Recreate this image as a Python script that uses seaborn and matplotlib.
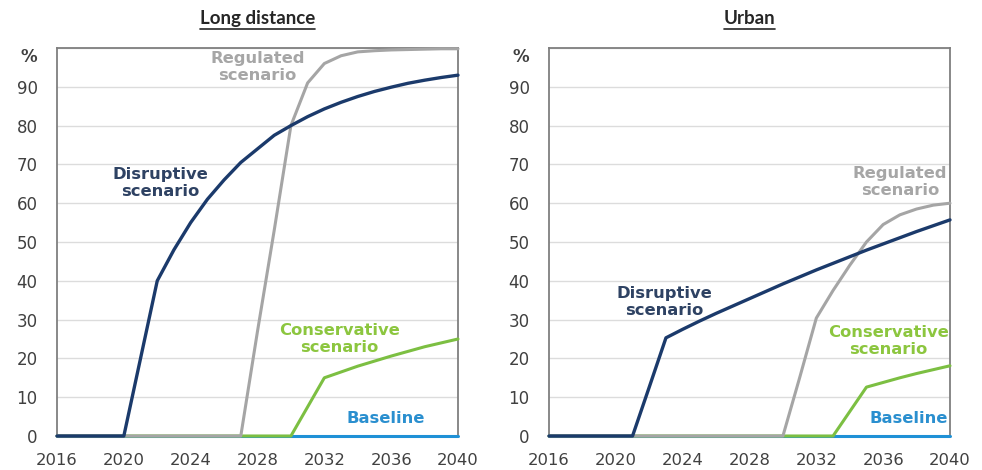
import pandas as pd
import matplotlib
matplotlib.use("Agg")
import matplotlib.pyplot as plt
from matplotlib.lines import Line2D
import seaborn as sns

# data (% share, 2016-2040)
years = list(range(2016, 2041))

long_baseline = [0] * 25
long_conservative = [0, 0, 0, 0, 0, 0, 0, 0, 0, 0, 0, 0, 0, 0, 0,
                     7.5, 15, 16.5, 18, 19.3, 20.6, 21.8, 23, 24, 25]
long_regulated = [0, 0, 0, 0, 0, 0, 0, 0, 0, 0, 0, 0,
                  27, 53, 80, 91, 96, 98, 99, 99.3, 99.5, 99.6, 99.7, 99.8, 99.8]
long_disruptive = [0, 0, 0, 0, 0, 20, 40, 48, 55, 61, 66, 70.5, 74, 77.5, 80,
                   82.3, 84.3, 86, 87.5, 88.8, 89.9, 90.9, 91.7, 92.4, 93]

urban_baseline = [0] * 25
urban_conservative = [0, 0, 0, 0, 0, 0, 0, 0, 0, 0, 0, 0, 0, 0, 0, 0, 0, 0,
                      6.3, 12.6, 13.8, 15, 16.1, 17.1, 18.1]
urban_regulated = [0, 0, 0, 0, 0, 0, 0, 0, 0, 0, 0, 0, 0, 0, 0,
                   15, 30.4, 37.5, 44, 50, 54.5, 57, 58.5, 59.5, 60]
urban_disruptive = [0, 0, 0, 0, 0, 0, 12.6, 25.3, 27.5, 29.6, 31.6, 33.5, 35.4,
                    37.3, 39.2, 41.0, 42.8, 44.5, 46.2, 47.9, 49.5, 51.1, 52.7, 54.2, 55.7]

panel_titles = ["Long distance", "Urban"]
scenarios = ["Baseline", "Conservative", "Regulated", "Disruptive"]

line_colors = {"Baseline": "#1f91d6", "Conservative": "#7cbf42",
               "Regulated": "#a5a5a5", "Disruptive": "#1b3a6b"}
text_colors = {"Baseline": "#2a8fcf", "Conservative": "#8cc63f",
               "Regulated": "#a6a6a6", "Disruptive": "#2e4263"}
line_widths = {"Baseline": 2.2, "Conservative": 2.2, "Regulated": 2.2, "Disruptive": 2.4}

# label positions (year, %) for each panel
label_text = {"Baseline": "Baseline", "Conservative": "Conservative\nscenario",
              "Regulated": "Regulated\nscenario", "Disruptive": "Disruptive\nscenario"}
label_pos = [
    {"Baseline": (2035.7, 4.6), "Conservative": (2032.9, 25.0),
     "Regulated": (2028.0, 95.1), "Disruptive": (2022.2, 65.2)},
    {"Baseline": (2037.5, 4.4), "Conservative": (2036.3, 24.5),
     "Regulated": (2037.0, 65.5), "Disruptive": (2022.9, 34.5)},
]

frames = []
for panel, series in zip(panel_titles, [
        [long_baseline, long_conservative, long_regulated, long_disruptive],
        [urban_baseline, urban_conservative, urban_regulated, urban_disruptive]]):
    for name, vals in zip(scenarios, series):
        frames.append(pd.DataFrame({"panel": panel, "scenario": name,
                                    "year": years, "share": vals}))
df = pd.concat(frames, ignore_index=True)

sns.set_theme(style="white")
plt.rcParams["font.family"] = ["DejaVu Sans"]

fig = plt.figure(figsize=(9.82, 4.70), dpi=100)
ax_left = fig.add_axes([57 / 982, 34 / 470, 401 / 982, 388 / 470])
ax_right = fig.add_axes([549 / 982, 34 / 470, 401 / 982, 388 / 470])

for i, (ax, panel) in enumerate(zip([ax_left, ax_right], panel_titles)):
    sub = df[df["panel"] == panel]
    # draw baseline first so the disruptive line ends up on top
    for name in scenarios:
        sns.lineplot(data=sub[sub["scenario"] == name], x="year", y="share",
                     color=line_colors[name], linewidth=line_widths[name],
                     ax=ax, clip_on=False, zorder=3)
        x, y = label_pos[i][name]
        ax.text(x, y, label_text[name], color=text_colors[name], ha="center",
                va="center", fontsize=11.8, fontweight="bold", linespacing=1.2,
                zorder=4)

    ax.set_xlim(2016, 2040)
    ax.set_ylim(0, 100)
    ax.set_xticks(range(2016, 2041, 4))
    ax.set_xticks(range(2016, 2041), minor=True)
    ax.set_yticks(range(0, 101, 10))
    ax.set_yticklabels([str(v) for v in range(0, 100, 10)] + ["%"])
    ax.get_yticklabels()[-1].set_fontweight("bold")
    ax.get_yticklabels()[-1].set_verticalalignment("top")
    ax.set_xlabel("")
    ax.set_ylabel("")

    ax.yaxis.grid(True, color="#dcdcdc", linewidth=1)
    ax.set_axisbelow(True)
    for s in ax.spines.values():
        s.set_color("#7f7f7f")
        s.set_linewidth(1.3)

    ax.tick_params(axis="x", which="both", direction="in", length=5,
                   color="#8c8c8c", width=1, labelsize=11.8,
                   labelcolor="#404040", pad=12)
    ax.tick_params(axis="y", length=0, labelsize=12, labelcolor="#404040", pad=14)

    ax.set_title(panel, fontsize=13.5, fontweight="bold", family="Lato",
                 color="#262626", pad=17)

# underline the panel titles
fig.canvas.draw()
renderer = fig.canvas.get_renderer()
for ax in [ax_left, ax_right]:
    bb = ax.title.get_window_extent(renderer).transformed(fig.transFigure.inverted())
    yline = bb.y0 - 1.5 / 470
    fig.add_artist(Line2D([bb.x0, bb.x1], [yline, yline], color="#262626",
                          linewidth=1.2, transform=fig.transFigure))

fig.savefig("out.png", dpi=100)
